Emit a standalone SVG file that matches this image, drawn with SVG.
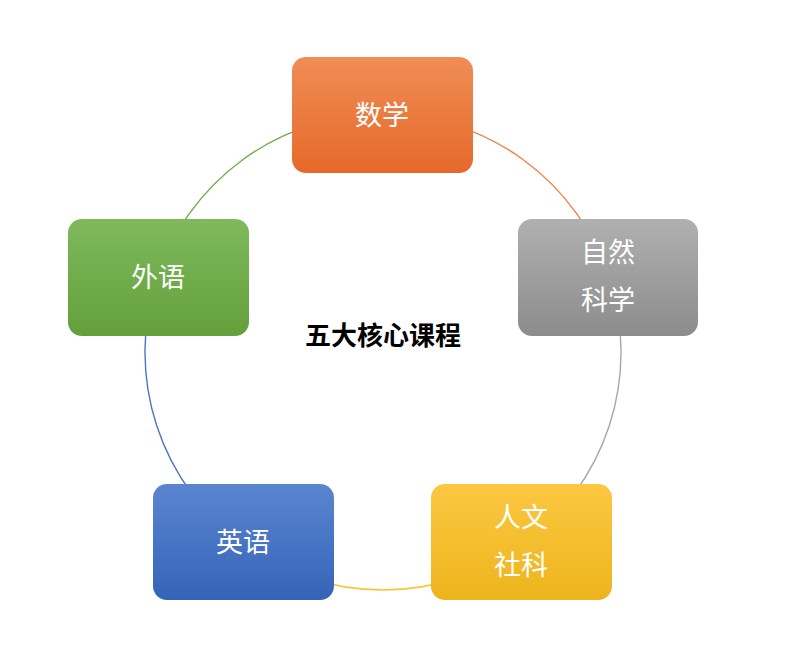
<svg xmlns="http://www.w3.org/2000/svg" width="800" height="646" viewBox="0 0 800 646">
<defs>
<linearGradient id="go" x1="0" y1="0" x2="0" y2="1"><stop offset="0" stop-color="#f08d55"/><stop offset="1" stop-color="#e6692a"/></linearGradient>
<linearGradient id="gg" x1="0" y1="0" x2="0" y2="1"><stop offset="0" stop-color="#b0b0b0"/><stop offset="1" stop-color="#8c8c8c"/></linearGradient>
<linearGradient id="gy" x1="0" y1="0" x2="0" y2="1"><stop offset="0" stop-color="#fcc842"/><stop offset="1" stop-color="#edb41c"/></linearGradient>
<linearGradient id="gb" x1="0" y1="0" x2="0" y2="1"><stop offset="0" stop-color="#5a86d0"/><stop offset="1" stop-color="#3563b8"/></linearGradient>
<linearGradient id="gn" x1="0" y1="0" x2="0" y2="1"><stop offset="0" stop-color="#7fb95b"/><stop offset="1" stop-color="#63a03c"/></linearGradient>
</defs>
<style>
.box{rx:14px;ry:14px}
.t{font-family:"Noto Sans CJK SC","Liberation Sans",sans-serif;font-size:27px;fill:#fff;text-anchor:middle}
.a{fill:none;stroke-width:1.4}
</style>
<rect width="800" height="646" fill="#fff"/>
<g id="connectors">
<path class="a" stroke="#ee8447" d="M383,114 A238,238 0 0 1 609.4,278.5"/>
<path class="a" stroke="#a6a6a6" d="M609.4,278.5 A238,238 0 0 1 522.9,544.5"/>
<path class="a" stroke="#f8c232" d="M522.9,544.5 A238,238 0 0 1 243.1,544.5"/>
<path class="a" stroke="#4a76c4" d="M243.1,544.5 A238,238 0 0 1 156.6,278.5"/>
<path class="a" stroke="#70ad47" d="M156.6,278.5 A238,238 0 0 1 383,114"/>
</g>
<g id="n1"><rect class="box" x="292" y="57" width="181" height="116" fill="url(#go)"/><text class="t" x="382" y="125">数学</text></g>
<g id="n2"><rect class="box" x="518" y="219" width="180" height="117" fill="url(#gg)"/><text class="t" x="608" y="262">自然</text><text class="t" x="608" y="310">科学</text></g>
<g id="n3"><rect class="box" x="431" y="484" width="181" height="116" fill="url(#gy)"/><text class="t" x="521" y="527">人文</text><text class="t" x="521" y="575">社科</text></g>
<g id="n4"><rect class="box" x="153" y="484" width="181" height="116" fill="url(#gb)"/><text class="t" x="243" y="552">英语</text></g>
<g id="n5"><rect class="box" x="68" y="219" width="181" height="117" fill="url(#gn)"/><text class="t" x="158" y="287">外语</text></g>
<g id="title"><text x="383" y="345" font-family="'Noto Sans CJK SC','Liberation Sans',sans-serif" font-size="26" font-weight="bold" text-anchor="middle" fill="#000">五大核心课程</text></g>
</svg>
